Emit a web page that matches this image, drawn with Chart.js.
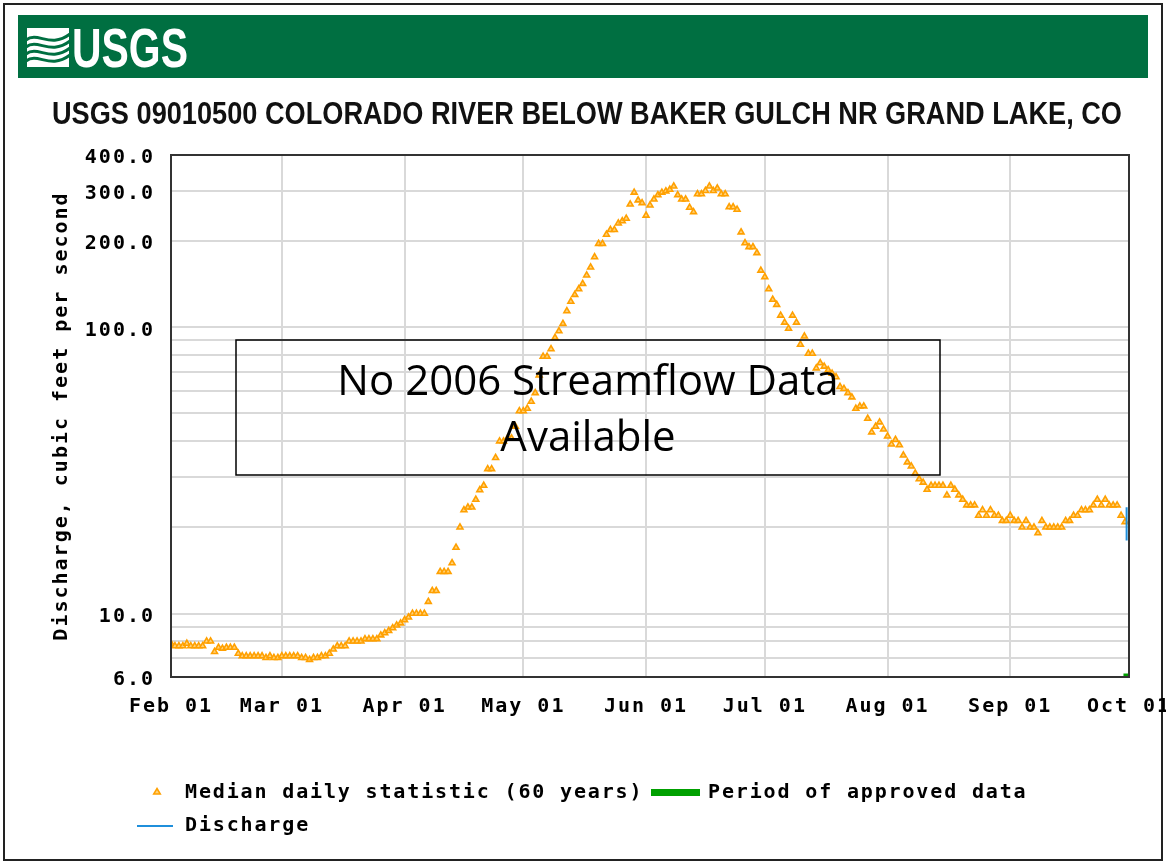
<!DOCTYPE html>
<html><head><meta charset="utf-8">
<script src="https://cdn.jsdelivr.net/npm/chart.js@4.4.1/dist/chart.umd.min.js"></script>
<style>html,body{margin:0;padding:0;background:#fff;} #c{display:block;}</style>
</head><body>
<canvas id="c" width="1166" height="865"></canvas>
<script>
const chartTitle = 'USGS 09010500 COLORADO RIVER BELOW BAKER GULCH NR GRAND LAKE, CO';
const logoText = 'USGS';
const yAxisTitle = 'Discharge, cubic feet per second';
const monthLabels = ['Feb 01','Mar 01','Apr 01','May 01','Jun 01','Jul 01','Aug 01','Sep 01','Oct 01'];
const monthStartDays = [0,28,59,89,120,150,181,212,242];
const yGridValues = [6,7,8,9,10,20,30,40,50,60,70,80,90,100,200,300,400];
const yLabelValues = [6,10,100,200,300,400];
const legendLabels = ['Median daily statistic (60 years)', 'Period of approved data', 'Discharge'];
const noDataNote = ['No 2006 Streamflow Data', 'Available'];

// Median daily statistic, one value per day starting Feb 01 (day 0)
const medianCfs = [
  7.85,7.7,7.7,7.7,7.85,7.7,7.7,7.7,7.7,8.0,
  8.0,7.35,7.6,7.55,7.6,7.6,7.6,7.25,7.1,7.1,
  7.1,7.1,7.1,7.1,7.0,7.1,7.0,7.0,7.1,7.1,
  7.1,7.1,7.1,7.0,7.0,6.9,7.0,7.0,7.1,7.1,
  7.25,7.5,7.7,7.7,7.7,8.0,8.0,8.0,8.0,8.15,
  8.15,8.15,8.15,8.4,8.55,8.7,8.9,9.1,9.25,9.5,
  9.7,10,10,10,10,11,12,12,14,14,
  14,15,17,20,23,23.5,23.5,25,27,28,
  32,32,35,40,40,41,41,45,51,51,
  52,55,59,68,79,79,84,92,97,103,
  114,123,130,136,142,152,162,176,196,196,
  211,219,219,231,235,240,269,296,278,272,
  246,267,280,290,296,299,303,311,290,280,
  280,262,253,292,292,300,311,300,306,292,
  292,263,263,258,215,197,191,191,182,158,
  150,136,125,120,110,104,99,110,104,87,
  93,81,81,72,75,73,71,69,67,62,
  61,59,57,52,53,53,48,43,45,46.6,
  44,41.6,39,40.5,38.8,35.7,33.8,32.7,30.9,29.5,
  28.7,27.1,28,28,28,28,25.9,28,27.1,25.9,
  25,23.9,23.9,23.9,22,23,22,23,22,22,
  21.1,21.1,22,21.1,21.1,20,21.1,20,20,19.1,
  21.1,20,20,20,20,20,21.1,21.1,22,22,
  23,23,23,23.9,25,23.9,25,23.9,23.9,23.9,
  22,20.9
];
const dischargeDays = [241.4, 241.4];
const dischargeCfs = [23.5, 18.0];
const approvedDays = [240.6, 242];
const approvedCfs = [6, 6];

const MONO = "'DejaVu Sans Mono', monospace";
const LETTER_SP = '2.0px';
const ORANGE = '#FFA000';
const ORANGE_FILL = '#FFD27A';
const GREEN_APPROVED = '#00A000';
const BLUE = '#1F8FDB';

Chart.defaults.font.family = MONO;
Chart.defaults.font.size = 20;
Chart.defaults.font.weight = 'bold';
Chart.defaults.color = '#000';

function drawTri(ctx, x, y, r) {
  ctx.beginPath();
  ctx.moveTo(x, y - r);
  ctx.lineTo(x + r * 0.95, y + r * 0.6);
  ctx.lineTo(x - r * 0.95, y + r * 0.6);
  ctx.closePath();
  ctx.fillStyle = ORANGE_FILL; ctx.fill();
  ctx.strokeStyle = ORANGE; ctx.lineWidth = 1.5; ctx.stroke();
}

const decor = {
  id: 'decor',
  beforeDraw(chart) {
    const ctx = chart.ctx;
    ctx.save();
    ctx.letterSpacing = '0px';
    ctx.fillStyle = '#fff';
    ctx.fillRect(0, 0, chart.width, chart.height);
    // outer frame
    ctx.strokeStyle = '#222'; ctx.lineWidth = 2;
    ctx.strokeRect(4, 4, 1158, 856);
    // banner
    ctx.fillStyle = '#006F41';
    ctx.fillRect(18, 15, 1130, 63);
    // logo icon
    ctx.fillStyle = '#fff';
    ctx.fillRect(27, 28, 42, 39);
    ctx.strokeStyle = '#006F41'; ctx.lineWidth = 3;
    for (let k = 0; k < 4; k++) {
      const y0 = 40 + k * 7;
      ctx.beginPath();
      ctx.moveTo(26, y0);
      ctx.bezierCurveTo(38, y0 - 9, 50, y0 + 9, 70, y0 - 6);
      ctx.stroke();
    }
    // logo text
    ctx.fillStyle = '#fff';
    ctx.font = "bold 56px 'Liberation Sans', Arial, sans-serif";
    ctx.textBaseline = 'alphabetic'; ctx.textAlign = 'left';
    let w = ctx.measureText(logoText).width;
    ctx.save(); ctx.translate(72, 67); ctx.scale(116 / w, 1);
    ctx.fillText(logoText, 0, 0); ctx.restore();
    // chart title
    ctx.fillStyle = '#111';
    ctx.font = "bold 31px 'Liberation Sans', Arial, sans-serif";
    w = ctx.measureText(chartTitle).width;
    ctx.save(); ctx.translate(52, 124); ctx.scale(1070 / w, 1);
    ctx.fillText(chartTitle, 0, 0); ctx.restore();
    ctx.restore();
    ctx.letterSpacing = LETTER_SP;
  },
  afterDraw(chart) {
    const ctx = chart.ctx;
    const a = chart.chartArea;
    ctx.save();
    // plot frame
    ctx.strokeStyle = '#333'; ctx.lineWidth = 2;
    ctx.strokeRect(a.left, a.top, a.right - a.left, a.bottom - a.top);
    // no-data note box
    ctx.letterSpacing = '0px';
    ctx.strokeStyle = '#000'; ctx.lineWidth = 1.5;
    ctx.strokeRect(236, 340, 704, 135);
    ctx.fillStyle = '#000';
    ctx.font = "42px 'Open Sans', 'Noto Sans', sans-serif";
    ctx.textAlign = 'center'; ctx.textBaseline = 'alphabetic';
    ctx.fillText(noDataNote[0], 588, 395);
    ctx.fillText(noDataNote[1], 588, 451);
    // legend
    ctx.letterSpacing = '1.85px';
    ctx.font = "bold 20px " + MONO;
    ctx.textAlign = 'left'; ctx.textBaseline = 'middle';
    drawTri(ctx, 157, 792, 3.5);
    ctx.fillStyle = '#000';
    ctx.fillText(legendLabels[0], 185, 793);
    ctx.fillStyle = GREEN_APPROVED;
    ctx.fillRect(651, 789, 49, 7);
    ctx.fillStyle = '#000';
    ctx.fillText(legendLabels[1], 708, 793);
    ctx.strokeStyle = BLUE; ctx.lineWidth = 2;
    ctx.beginPath(); ctx.moveTo(137, 826); ctx.lineTo(173, 826); ctx.stroke();
    ctx.fillStyle = '#000';
    ctx.fillText(legendLabels[2], 185, 826);
    ctx.restore();
  }
};

const gridStyle = { color: '#D9D9D9', lineWidth: 2, drawTicks: false };

new Chart(document.getElementById('c'), {
  type: 'scatter',
  data: {
    datasets: [
      {
        label: legendLabels[0],
        data: medianCfs.map((v, i) => ({ x: i, y: v })),
        showLine: false,
        pointStyle: 'triangle',
        pointRadius: 3.4,
        pointBorderWidth: 1.6,
        borderColor: ORANGE,
        backgroundColor: ORANGE_FILL,
        order: 2
      },
      {
        label: legendLabels[2],
        data: dischargeDays.map((d, i) => ({ x: d, y: dischargeCfs[i] })),
        showLine: true,
        borderColor: BLUE,
        borderWidth: 2,
        pointRadius: 0,
        order: 1
      },
      {
        label: legendLabels[1],
        data: approvedDays.map((d, i) => ({ x: d, y: approvedCfs[i] })),
        showLine: true,
        borderColor: GREEN_APPROVED,
        borderWidth: 7,
        pointRadius: 0,
        clip: 0,
        order: 0
      }
    ]
  },
  options: {
    responsive: false,
    animation: false,
    devicePixelRatio: 1,
    events: [],
    layout: { autoPadding: false, padding: { left: 0, right: 37, top: 155, bottom: 128 } },
    plugins: { legend: { display: false }, tooltip: { enabled: false }, title: { display: false } },
    scales: {
      x: {
        type: 'linear', min: 0, max: 242,
        afterBuildTicks: s => { s.ticks = monthStartDays.map(v => ({ value: v })); },
        afterFit: s => { s.height = 60; s.paddingLeft = 0; s.paddingRight = 0; },
        ticks: {
          autoSkip: false, maxRotation: 0, minRotation: 0, padding: 18, color: '#000',
          callback: v => { const i = monthStartDays.indexOf(v); return i >= 0 ? monthLabels[i] : ''; }
        },
        grid: gridStyle,
        border: { display: true, color: '#333', width: 2 }
      },
      y: {
        type: 'logarithmic', min: 6, max: 400,
        afterBuildTicks: s => { s.ticks = yGridValues.map(v => ({ value: v })); },
        afterFit: s => { s.width = 171; s.paddingTop = 0; s.paddingBottom = 0; },
        ticks: {
          autoSkip: false, padding: 16, color: '#000', labelOffset: 3,
          callback: v => yLabelValues.includes(v) ? v.toFixed(1) : ''
        },
        grid: gridStyle,
        border: { display: true, color: '#333', width: 2 },
        title: { display: true, text: yAxisTitle, color: '#000', padding: { top: 50, bottom: 0 } }
      }
    }
  },
  plugins: [decor]
});
</script>
</body></html>
